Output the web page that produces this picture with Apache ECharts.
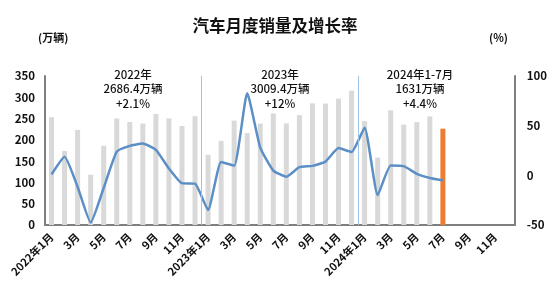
<!DOCTYPE html>
<html><head><meta charset="utf-8">
<script src="https://cdn.jsdelivr.net/npm/echarts@6/dist/echarts.min.js"></script>
<style>html,body{margin:0;padding:0;background:#fff}#c{width:550px;height:283px}</style>
</head><body><div id="c"></div>
<script>
const categories = [
 "2022年1月","2月","3月","4月","5月","6月","7月","8月","9月","10月","11月","12月",
 "2023年1月","2月","3月","4月","5月","6月","7月","8月","9月","10月","11月","12月",
 "2024年1月","2月","3月","4月","5月","6月","7月","8月","9月","10月","11月","12月"];
const sales = [253.1,173.7,223.4,118.1,186.2,250.2,242.0,238.3,261.0,250.5,232.5,255.6,
 164.9,197.6,245.1,215.9,238.2,262.2,238.7,258.2,285.8,285.3,297.0,315.6,
 243.9,158.4,269.4,235.9,241.7,255.2,226.2];
const growth = [0.9,18.7,-11.7,-47.6,-12.6,23.8,29.7,32.1,25.7,6.9,-7.9,-8.4,
 -35.0,13.5,9.7,82.7,27.9,4.8,-1.4,8.2,9.5,13.8,27.4,23.5,
 47.9,-19.9,9.9,9.3,1.5,-2.7,-5.2];
const yearBoundaries = [12, 24];
const highlightIndex = 30;
const leftTicks = [0, 350, 50];
const rightTicks = [-50, 100, 50];
const annotations = [
 {text: "2022年\n2686.4万辆\n+2.1%", x: 133},
 {text: "2023年\n3009.4万辆\n+12%", x: 280},
 {text: "2024年1-7月\n1631万辆\n+4.4%", x: 420}
];

const chart = echarts.init(document.getElementById('c'));
const font = "'Noto Sans CJK SC', 'Noto Sans', sans-serif";
const axisLine = {show: true, lineStyle: {color: '#7f7f7f', width: 2}};
chart.setOption({
  animation: false,
  textStyle: {fontFamily: font},
  title: {text: '汽车月度销量及增长率', left: 'center', top: 12,
    textStyle: {fontSize: 16.5, fontWeight: 'bold', color: '#111', fontFamily: font}},
  grid: {left: 45, right: 33, top: 76, bottom: 58},
  xAxis: [{
    type: 'category', data: categories, boundaryGap: true,
    axisLine: axisLine, axisTick: {show: false},
    axisLabel: {interval: 1, rotate: 45, fontSize: 11, fontWeight: 'bold', color: '#111', margin: 10}
  }, {
    type: 'value', min: 0, max: categories.length, show: false
  }],
  yAxis: [{
    type: 'value', min: leftTicks[0], max: leftTicks[1], interval: leftTicks[2],
    axisLine: axisLine, axisTick: {show: false}, splitLine: {show: false},
    axisLabel: {fontSize: 11.5, fontWeight: 'bold', color: '#111', margin: 10}
  }, {
    type: 'value', min: rightTicks[0], max: rightTicks[1], interval: rightTicks[2],
    axisLine: axisLine, axisTick: {show: false}, splitLine: {show: false},
    axisLabel: {fontSize: 11.5, fontWeight: 'bold', color: '#111', margin: 12}
  }],
  graphic: [
    {type: 'text', left: 38, top: 32, style: {text: '(万辆)', font: 'bold 11px ' + font, fill: '#111'}},
    {type: 'text', left: 489, top: 32, style: {text: '(%)', font: 'bold 11px ' + font, fill: '#111'}}
  ].concat(annotations.map(a => ({
    type: 'text', x: a.x, y: 67,
    style: {text: a.text, font: '500 11.5px ' + font, fill: '#111', align: 'center', lineHeight: 14.5}
  }))),
  series: [{
    type: 'bar', xAxisIndex: 0, yAxisIndex: 0, barWidth: 5, z: 1,
    itemStyle: {color: '#d9d9d9'},
    data: sales.map((v, i) => i === highlightIndex ? {value: v, itemStyle: {color: '#ed7d31'}} : v)
  }, {
    type: 'line', xAxisIndex: 0, yAxisIndex: 1, data: growth, symbol: 'none', z: 3,
    lineStyle: {color: '#5b8fc6', width: 2.5}, smooth: 0.15
  }, {
    type: 'line', xAxisIndex: 1, yAxisIndex: 0, data: [], z: 2,
    markLine: {symbol: 'none', silent: true, label: {show: false},
      lineStyle: {color: '#9dc3e6', width: 1, type: 'solid'},
      data: yearBoundaries.map(b => ({xAxis: b}))}
  }]
});
</script></body></html>
